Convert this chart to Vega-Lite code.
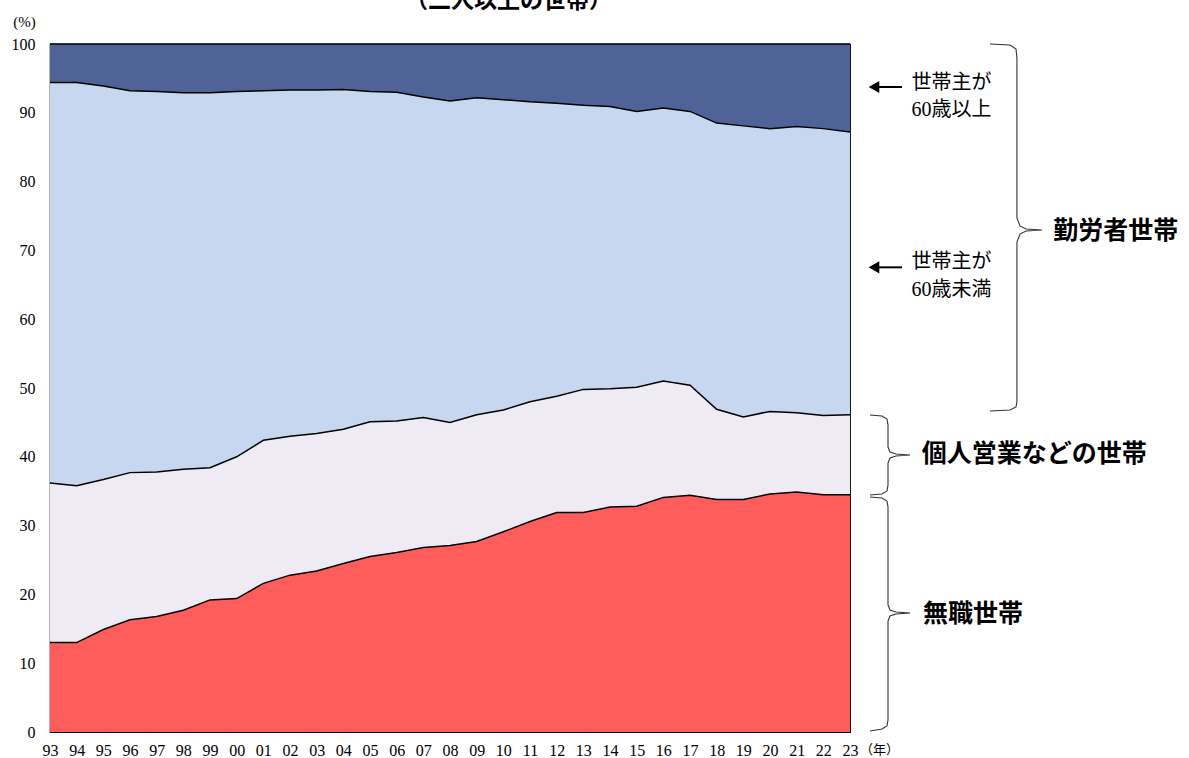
{
  "$schema": "https://vega.github.io/schema/vega-lite/v6.json",
  "autosize": "none",
  "width": 800,
  "height": 688,
  "padding": {"left": 50, "top": 44, "right": 339, "bottom": 26},
  "background": "white",
  "config": {
    "view": {"stroke": "black", "strokeWidth": 1.2},
    "axisX": {
      "grid": false, "domainColor": "black", "tickColor": "black", "tickSize": -4,
      "labelPadding": 14, "labelFont": "Liberation Serif", "labelFontSize": 16,
      "labelColor": "black", "labelAngle": 0, "labelOverlap": false, "labelSeparation": 0, "labelFlush": false,
      "titleFont": "Noto Sans CJK JP", "titleFontSize": 13, "titleFontWeight": "normal",
      "titleColor": "black", "titleX": 829, "titleY": 17, "titleAlign": "center", "titleBaseline": "middle"
    },
    "axisY": {
      "grid": false, "domainColor": "black", "tickColor": "black", "tickSize": -4,
      "labelPadding": 19, "labelFont": "Liberation Serif", "labelFontSize": 16,
      "labelColor": "black", "labelOverlap": false, "labelFlush": false,
      "titleFont": "Liberation Serif", "titleFontSize": 15, "titleFontWeight": "normal",
      "titleColor": "black", "titleAngle": 0, "titleX": -26, "titleY": -23,
      "titleAlign": "center", "titleBaseline": "middle"
    }
  },
  "resolve": {"axis": {"x": "independent", "y": "independent"}},
  "datasets": {
    "shares": [
      {"year": 1993, "無職世帯": 13.0, "個人営業などの世帯": 23.2, "勤労者世帯・世帯主60歳未満": 58.2, "勤労者世帯・世帯主60歳以上": 5.6},
      {"year": 1994, "無職世帯": 13.0, "個人営業などの世帯": 22.8, "勤労者世帯・世帯主60歳未満": 58.6, "勤労者世帯・世帯主60歳以上": 5.6},
      {"year": 1995, "無職世帯": 14.9, "個人営業などの世帯": 21.8, "勤労者世帯・世帯主60歳未満": 57.2, "勤労者世帯・世帯主60歳以上": 6.1},
      {"year": 1996, "無職世帯": 16.3, "個人営業などの世帯": 21.4, "勤労者世帯・世帯主60歳未満": 55.5, "勤労者世帯・世帯主60歳以上": 6.8},
      {"year": 1997, "無職世帯": 16.8, "個人営業などの世帯": 21.0, "勤労者世帯・世帯主60歳未満": 55.3, "勤労者世帯・世帯主60歳以上": 6.9},
      {"year": 1998, "無職世帯": 17.7, "個人営業などの世帯": 20.5, "勤労者世帯・世帯主60歳未満": 54.7, "勤労者世帯・世帯主60歳以上": 7.1},
      {"year": 1999, "無職世帯": 19.2, "個人営業などの世帯": 19.2, "勤労者世帯・世帯主60歳未満": 54.5, "勤労者世帯・世帯主60歳以上": 7.1},
      {"year": 2000, "無職世帯": 19.4, "個人営業などの世帯": 20.6, "勤労者世帯・世帯主60歳未満": 53.1, "勤労者世帯・世帯主60歳以上": 6.9},
      {"year": 2001, "無職世帯": 21.6, "個人営業などの世帯": 20.8, "勤労者世帯・世帯主60歳未満": 50.8, "勤労者世帯・世帯主60歳以上": 6.8},
      {"year": 2002, "無職世帯": 22.8, "個人営業などの世帯": 20.2, "勤労者世帯・世帯主60歳未満": 50.3, "勤労者世帯・世帯主60歳以上": 6.7},
      {"year": 2003, "無職世帯": 23.4, "個人営業などの世帯": 20.0, "勤労者世帯・世帯主60歳未満": 49.9, "勤労者世帯・世帯主60歳以上": 6.7},
      {"year": 2004, "無職世帯": 24.5, "個人営業などの世帯": 19.5, "勤労者世帯・世帯主60歳未満": 49.4, "勤労者世帯・世帯主60歳以上": 6.6},
      {"year": 2005, "無職世帯": 25.5, "個人営業などの世帯": 19.6, "勤労者世帯・世帯主60歳未満": 48.0, "勤労者世帯・世帯主60歳以上": 6.9},
      {"year": 2006, "無職世帯": 26.1, "個人営業などの世帯": 19.1, "勤労者世帯・世帯主60歳未満": 47.8, "勤労者世帯・世帯主60歳以上": 7.0},
      {"year": 2007, "無職世帯": 26.8, "個人営業などの世帯": 18.9, "勤労者世帯・世帯主60歳未満": 46.6, "勤労者世帯・世帯主60歳以上": 7.7},
      {"year": 2008, "無職世帯": 27.1, "個人営業などの世帯": 17.9, "勤労者世帯・世帯主60歳未満": 46.7, "勤労者世帯・世帯主60歳以上": 8.3},
      {"year": 2009, "無職世帯": 27.7, "個人営業などの世帯": 18.4, "勤労者世帯・世帯主60歳未満": 46.1, "勤労者世帯・世帯主60歳以上": 7.8},
      {"year": 2010, "無職世帯": 29.1, "個人営業などの世帯": 17.7, "勤労者世帯・世帯主60歳未満": 45.1, "勤労者世帯・世帯主60歳以上": 8.1},
      {"year": 2011, "無職世帯": 30.6, "個人営業などの世帯": 17.4, "勤労者世帯・世帯主60歳未満": 43.6, "勤労者世帯・世帯主60歳以上": 8.4},
      {"year": 2012, "無職世帯": 31.9, "個人営業などの世帯": 16.9, "勤労者世帯・世帯主60歳未満": 42.6, "勤労者世帯・世帯主60歳以上": 8.6},
      {"year": 2013, "無職世帯": 31.9, "個人営業などの世帯": 17.9, "勤労者世帯・世帯主60歳未満": 41.3, "勤労者世帯・世帯主60歳以上": 8.9},
      {"year": 2014, "無職世帯": 32.7, "個人営業などの世帯": 17.2, "勤労者世帯・世帯主60歳未満": 41.0, "勤労者世帯・世帯主60歳以上": 9.1},
      {"year": 2015, "無職世帯": 32.8, "個人営業などの世帯": 17.3, "勤労者世帯・世帯主60歳未満": 40.1, "勤労者世帯・世帯主60歳以上": 9.8},
      {"year": 2016, "無職世帯": 34.1, "個人営業などの世帯": 16.9, "勤労者世帯・世帯主60歳未満": 39.7, "勤労者世帯・世帯主60歳以上": 9.3},
      {"year": 2017, "無職世帯": 34.4, "個人営業などの世帯": 16.0, "勤労者世帯・世帯主60歳未満": 39.8, "勤労者世帯・世帯主60歳以上": 9.8},
      {"year": 2018, "無職世帯": 33.8, "個人営業などの世帯": 13.1, "勤労者世帯・世帯主60歳未満": 41.6, "勤労者世帯・世帯主60歳以上": 11.5},
      {"year": 2019, "無職世帯": 33.8, "個人営業などの世帯": 12.0, "勤労者世帯・世帯主60歳未満": 42.3, "勤労者世帯・世帯主60歳以上": 11.9},
      {"year": 2020, "無職世帯": 34.6, "個人営業などの世帯": 12.0, "勤労者世帯・世帯主60歳未満": 41.1, "勤労者世帯・世帯主60歳以上": 12.3},
      {"year": 2021, "無職世帯": 34.9, "個人営業などの世帯": 11.5, "勤労者世帯・世帯主60歳未満": 41.6, "勤労者世帯・世帯主60歳以上": 12.0},
      {"year": 2022, "無職世帯": 34.5, "個人営業などの世帯": 11.5, "勤労者世帯・世帯主60歳未満": 41.7, "勤労者世帯・世帯主60歳以上": 12.3},
      {"year": 2023, "無職世帯": 34.5, "個人営業などの世帯": 11.6, "勤労者世帯・世帯主60歳未満": 41.1, "勤労者世帯・世帯主60歳以上": 12.8}
    ],
    "braces": [
      {"brace": "勤労者世帯", "i": 1, "x": 2028.25, "y": 100},
      {"brace": "勤労者世帯", "i": 2, "x": 2029.0, "y": 99.85},
      {"brace": "勤労者世帯", "i": 3, "x": 2029.225, "y": 99.27},
      {"brace": "勤労者世帯", "i": 4, "x": 2029.26, "y": 97.97},
      {"brace": "勤労者世帯", "i": 5, "x": 2029.26, "y": 74.71},
      {"brace": "勤労者世帯", "i": 6, "x": 2029.375, "y": 73.55},
      {"brace": "勤労者世帯", "i": 7, "x": 2029.6, "y": 73.11},
      {"brace": "勤労者世帯", "i": 8, "x": 2030.2, "y": 72.97},
      {"brace": "勤労者世帯", "i": 9, "x": 2029.6, "y": 72.82},
      {"brace": "勤労者世帯", "i": 10, "x": 2029.375, "y": 72.38},
      {"brace": "勤労者世帯", "i": 11, "x": 2029.26, "y": 71.22},
      {"brace": "勤労者世帯", "i": 12, "x": 2029.26, "y": 47.97},
      {"brace": "勤労者世帯", "i": 13, "x": 2029.225, "y": 47.24},
      {"brace": "勤労者世帯", "i": 14, "x": 2029.0, "y": 46.8},
      {"brace": "勤労者世帯", "i": 15, "x": 2028.25, "y": 46.66},
      {"brace": "個人営業などの世帯", "i": 1, "x": 2023.75, "y": 46.08},
      {"brace": "個人営業などの世帯", "i": 2, "x": 2024.2, "y": 45.93},
      {"brace": "個人営業などの世帯", "i": 3, "x": 2024.3875, "y": 45.49},
      {"brace": "個人営業などの世帯", "i": 4, "x": 2024.425, "y": 44.62},
      {"brace": "個人営業などの世帯", "i": 5, "x": 2024.425, "y": 41.42},
      {"brace": "個人営業などの世帯", "i": 6, "x": 2024.5, "y": 40.7},
      {"brace": "個人営業などの世帯", "i": 7, "x": 2024.725, "y": 40.41},
      {"brace": "個人営業などの世帯", "i": 8, "x": 2025.25, "y": 40.26},
      {"brace": "個人営業などの世帯", "i": 9, "x": 2024.725, "y": 40.12},
      {"brace": "個人営業などの世帯", "i": 10, "x": 2024.5, "y": 39.83},
      {"brace": "個人営業などの世帯", "i": 11, "x": 2024.425, "y": 39.1},
      {"brace": "個人営業などの世帯", "i": 12, "x": 2024.425, "y": 35.9},
      {"brace": "個人営業などの世帯", "i": 13, "x": 2024.3875, "y": 35.03},
      {"brace": "個人営業などの世帯", "i": 14, "x": 2024.2, "y": 34.59},
      {"brace": "個人営業などの世帯", "i": 15, "x": 2023.75, "y": 34.45},
      {"brace": "無職世帯", "i": 1, "x": 2023.75, "y": 34.16},
      {"brace": "無職世帯", "i": 2, "x": 2024.2, "y": 34.01},
      {"brace": "無職世帯", "i": 3, "x": 2024.3875, "y": 33.58},
      {"brace": "無職世帯", "i": 4, "x": 2024.425, "y": 32.7},
      {"brace": "無職世帯", "i": 5, "x": 2024.425, "y": 18.46},
      {"brace": "無職世帯", "i": 6, "x": 2024.5, "y": 17.73},
      {"brace": "無職世帯", "i": 7, "x": 2024.725, "y": 17.44},
      {"brace": "無職世帯", "i": 8, "x": 2025.25, "y": 17.3},
      {"brace": "無職世帯", "i": 9, "x": 2024.725, "y": 17.15},
      {"brace": "無職世帯", "i": 10, "x": 2024.5, "y": 16.86},
      {"brace": "無職世帯", "i": 11, "x": 2024.425, "y": 16.13},
      {"brace": "無職世帯", "i": 12, "x": 2024.425, "y": 1.74},
      {"brace": "無職世帯", "i": 13, "x": 2024.3875, "y": 0.87},
      {"brace": "無職世帯", "i": 14, "x": 2024.2, "y": 0.44},
      {"brace": "無職世帯", "i": 15, "x": 2023.75, "y": 0.15}
    ],
    "arrows": [
      {"head": 2023.9, "x": 2024.05, "x2": 2024.95, "y": 93.75},
      {"head": 2023.9, "x": 2024.05, "x2": 2024.95, "y": 67.54}
    ],
    "small": [
      {"text": "世帯主が", "x": 2025.31, "y": 94.33},
      {"text": "60歳以上", "x": 2025.31, "y": 90.41},
      {"text": "世帯主が", "x": 2025.31, "y": 68.31},
      {"text": "60歳未満", "x": 2025.31, "y": 64.24}
    ],
    "big": [
      {"text": "勤労者世帯", "x": 2030.62, "y": 72.8},
      {"text": "個人営業などの世帯", "x": 2025.69, "y": 40.41},
      {"text": "無職世帯", "x": 2025.74, "y": 17.15}
    ],
    "heading": [
      {"text": "（二人以上の世帯）", "x": 2010.19, "y": 105.2}
    ]
  },
  "layer": [
    {
      "data": {"name": "shares"},
      "transform": [
        {"fold": ["無職世帯", "個人営業などの世帯", "勤労者世帯・世帯主60歳未満", "勤労者世帯・世帯主60歳以上"], "as": ["type", "share"]},
        {"stack": "share", "groupby": ["year"], "as": ["lo", "hi"]}
      ],
      "mark": {"type": "area", "interpolate": "linear"},
      "encoding": {
        "x": {
          "field": "year", "type": "quantitative",
          "scale": {"domain": [1993, 2023], "nice": false, "zero": false},
          "axis": {
            "values": [1993,1994,1995,1996,1997,1998,1999,2000,2001,2002,2003,2004,2005,2006,2007,2008,2009,2010,2011,2012,2013,2014,2015,2016,2017,2018,2019,2020,2021,2022,2023],
            "format": "d",
            "labelExpr": "substring(datum.label, 2)",
            "labelOverlap": false,
            "labelFlush": false,
            "title": "（年）"
          }
        },
        "y": {
          "field": "hi", "type": "quantitative",
          "scale": {"domain": [0, 100], "nice": false},
          "axis": {
            "values": [0,10,20,30,40,50,60,70,80,90,100],
            "labelFlush": false,
            "title": "(%)"
          }
        },
        "y2": {"field": "lo"},
        "color": {
          "field": "type", "type": "nominal",
          "scale": {
            "domain": ["無職世帯", "個人営業などの世帯", "勤労者世帯・世帯主60歳未満", "勤労者世帯・世帯主60歳以上"],
            "range": ["#ff5c5c", "#eeebf5", "#c6d7ef", "#4f6398"]
          },
          "legend": null
        }
      }
    },
    {
      "data": {"name": "shares"},
      "transform": [
        {"fold": ["無職世帯", "個人営業などの世帯", "勤労者世帯・世帯主60歳未満", "勤労者世帯・世帯主60歳以上"], "as": ["type", "share"]},
        {"stack": "share", "groupby": ["year"], "as": ["lo", "hi"]}
      ],
      "mark": {"type": "line", "color": "black", "strokeWidth": 1.5, "interpolate": "linear"},
      "encoding": {
        "x": {"field": "year", "type": "quantitative", "axis": null},
        "y": {"field": "hi", "type": "quantitative", "axis": null},
        "detail": {"field": "type", "type": "nominal"}
      }
    },
    {
      "data": {"name": "braces"},
      "mark": {"type": "line", "color": "#333333", "strokeWidth": 1.1, "clip": false},
      "encoding": {
        "x": {"field": "x", "type": "quantitative", "axis": null},
        "y": {"field": "y", "type": "quantitative", "axis": null},
        "detail": {"field": "brace", "type": "nominal"},
        "order": {"field": "i", "type": "quantitative"}
      }
    },
    {
      "data": {"name": "arrows"},
      "mark": {"type": "rule", "color": "black", "strokeWidth": 2, "clip": false},
      "encoding": {
        "x": {"field": "x", "type": "quantitative", "axis": null},
        "x2": {"field": "x2"},
        "y": {"field": "y", "type": "quantitative", "axis": null}
      }
    },
    {
      "data": {"name": "arrows"},
      "mark": {"type": "point", "shape": "triangle-left", "filled": true, "color": "black", "opacity": 1, "size": 150, "clip": false},
      "encoding": {
        "x": {"field": "head", "type": "quantitative", "axis": null},
        "y": {"field": "y", "type": "quantitative", "axis": null}
      }
    },
    {
      "data": {"name": "small"},
      "mark": {"type": "text", "align": "left", "baseline": "middle", "font": "Liberation Serif, Noto Sans CJK JP", "fontSize": 20, "color": "black", "clip": false},
      "encoding": {
        "x": {"field": "x", "type": "quantitative", "axis": null},
        "y": {"field": "y", "type": "quantitative", "axis": null},
        "text": {"field": "text"}
      }
    },
    {
      "data": {"name": "big"},
      "mark": {"type": "text", "align": "left", "baseline": "middle", "font": "Noto Sans CJK JP", "fontSize": 25, "fontWeight": "bold", "color": "black", "clip": false},
      "encoding": {
        "x": {"field": "x", "type": "quantitative", "axis": null},
        "y": {"field": "y", "type": "quantitative", "axis": null},
        "text": {"field": "text"}
      }
    },
    {
      "data": {"name": "heading"},
      "mark": {"type": "text", "align": "center", "baseline": "alphabetic", "font": "Noto Sans CJK JP", "fontSize": 23, "fontWeight": "bold", "color": "black", "clip": false},
      "encoding": {
        "x": {"field": "x", "type": "quantitative", "axis": null},
        "y": {"field": "y", "type": "quantitative", "axis": null},
        "text": {"field": "text"}
      }
    }
  ]
}
